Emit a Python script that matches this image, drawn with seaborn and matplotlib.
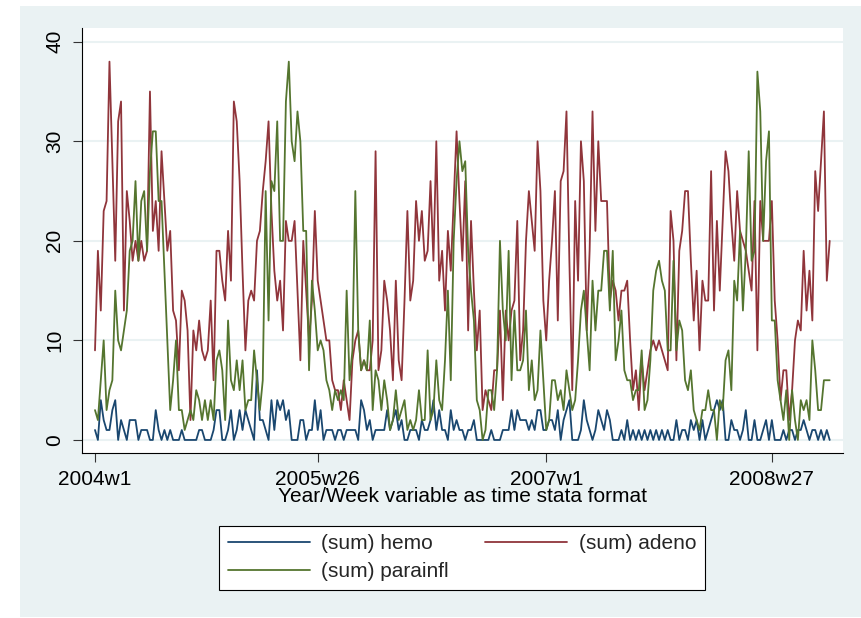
import numpy as np
import pandas as pd
import matplotlib
matplotlib.use("Agg")
import matplotlib.pyplot as plt
import seaborn as sns
from matplotlib.patches import Rectangle
from matplotlib.lines import Line2D

# ---- data (weekly counts, 2004w1 onwards) ----
tick_weeks = [0, 77, 156, 234]
tick_labels = ["2004w1", "2005w26", "2007w1", "2008w27"]
y_ticks = [0, 10, 20, 30, 40]

hemo = [
    1, 0, 4, 2, 1, 1, 3, 4, 0, 2, 1, 0, 2, 2, 2, 0, 1, 1, 1, 0,
    0, 3, 1, 0, 1, 0, 1, 0, 0, 0, 1, 0, 0, 0, 0, 0, 1, 1, 0, 0,
    0, 1, 3, 3, 0, 0, 1, 3, 0, 1, 3, 1, 3, 2, 1, 0, 7, 2, 2, 1,
    0, 4, 1, 4, 3, 4, 2, 3, 0, 0, 0, 2, 2, 0, 1, 1, 4, 1, 3, 0,
    1, 1, 1, 0, 1, 1, 0, 1, 1, 1, 1, 0, 4, 3, 1, 2, 0, 1, 1, 1,
    1, 3, 1, 2, 3, 1, 2, 0, 0, 1, 1, 1, 0, 2, 1, 1, 2, 4, 1, 3,
    1, 1, 0, 3, 1, 2, 1, 1, 0, 1, 1, 2, 0, 0, 0, 0, 0, 1, 0, 0,
    0, 1, 1, 1, 3, 1, 3, 2, 2, 2, 1, 2, 1, 3, 3, 1, 1, 2, 2, 1,
    3, 0, 2, 3, 4, 0, 0, 0, 1, 4, 2, 1, 0, 1, 3, 2, 1, 3, 2, 0,
    0, 0, 1, 0, 2, 0, 1, 0, 1, 0, 1, 0, 1, 0, 1, 0, 1, 0, 1, 0,
    0, 2, 0, 1, 1, 0, 2, 1, 2, 0, 2, 0, 1, 2, 3, 4, 3, 4, 0, 0,
    2, 1, 1, 0, 1, 3, 0, 0, 2, 0, 0, 1, 2, 0, 2, 0, 0, 0, 1, 0,
    1, 1, 0, 1, 1, 2, 1, 0, 1, 1, 0, 1, 0, 1, 0,
]

adeno = [
    9, 19, 13, 23, 24, 38, 28, 18, 32, 34, 13, 25, 22, 18, 20, 18, 20, 18, 19, 35,
    21, 24, 19, 29, 24, 19, 21, 13, 12, 7, 15, 14, 11, 2, 11, 9, 12, 9, 8, 9,
    14, 6, 19, 19, 16, 14, 21, 16, 34, 32, 26, 17, 9, 14, 15, 14, 20, 21, 25, 28,
    32, 23, 17, 14, 16, 11, 22, 20, 20, 22, 15, 8, 20, 15, 10, 14, 23, 16, 14, 12,
    10, 10, 6, 5, 5, 3, 6, 4, 2, 8, 10, 11, 7, 8, 7, 7, 10, 29, 7, 9,
    16, 14, 11, 6, 16, 8, 6, 14, 23, 14, 16, 24, 20, 23, 18, 19, 26, 18, 30, 16,
    19, 13, 21, 17, 24, 31, 24, 18, 26, 11, 22, 15, 9, 13, 3, 5, 4, 3, 7, 7,
    13, 4, 13, 10, 13, 14, 22, 8, 11, 20, 25, 22, 19, 30, 25, 14, 10, 16, 20, 25,
    12, 26, 27, 33, 18, 5, 24, 16, 30, 26, 11, 19, 33, 21, 30, 24, 24, 24, 14, 16,
    15, 12, 15, 15, 16, 10, 5, 7, 3, 8, 5, 7, 9, 10, 9, 10, 9, 8, 7, 23,
    20, 8, 19, 21, 25, 25, 18, 12, 17, 9, 16, 14, 14, 27, 13, 22, 15, 22, 29, 27,
    22, 18, 25, 21, 20, 19, 17, 15, 24, 9, 24, 20, 20, 20, 24, 14, 10, 4, 7, 7,
    2, 5, 10, 12, 11, 19, 13, 17, 12, 27, 23, 28, 33, 16, 20,
]

parainfl = [
    3, 2, 6, 10, 3, 5, 6, 15, 10, 9, 11, 13, 19, 20, 26, 18, 24, 25, 19, 27,
    31, 31, 24, 24, 17, 10, 3, 6, 10, 3, 3, 1, 2, 3, 2, 5, 4, 2, 4, 2,
    4, 2, 8, 9, 7, 2, 12, 6, 5, 8, 5, 8, 3, 4, 4, 9, 6, 3, 6, 25,
    12, 26, 25, 32, 20, 20, 34, 38, 30, 28, 33, 30, 21, 21, 7, 16, 13, 9, 10, 9,
    6, 5, 3, 5, 4, 5, 4, 15, 6, 9, 25, 11, 7, 8, 7, 12, 3, 7, 6, 3,
    6, 4, 1, 2, 5, 2, 3, 4, 1, 2, 1, 2, 5, 2, 2, 9, 2, 3, 8, 4,
    3, 8, 15, 6, 20, 26, 30, 27, 28, 19, 15, 12, 4, 3, 0, 1, 5, 5, 3, 7,
    20, 13, 10, 19, 6, 13, 7, 7, 8, 13, 5, 8, 4, 5, 11, 6, 1, 2, 6, 6,
    4, 5, 3, 7, 5, 3, 4, 8, 13, 15, 11, 7, 16, 11, 15, 15, 19, 19, 13, 19,
    8, 10, 13, 7, 6, 6, 4, 5, 5, 9, 3, 4, 8, 15, 17, 18, 16, 15, 9, 9,
    18, 9, 12, 11, 6, 5, 7, 3, 2, 1, 3, 3, 5, 3, 3, 0, 4, 3, 8, 9,
    5, 16, 14, 21, 13, 19, 29, 18, 19, 37, 33, 20, 28, 31, 12, 12, 6, 4, 2, 5,
    0, 5, 2, 0, 4, 3, 4, 2, 10, 7, 3, 3, 6, 6, 6,
]

series_names = ["(sum) hemo", "(sum) adeno", "(sum) parainfl"]
colors = ["#1A476F", "#90353B", "#55752F"]

# ---- figure ----
W, H = 861, 618
sns.set_theme(style="white")
plt.rcParams["font.family"] = ["Liberation Sans", "DejaVu Sans"]
fig = plt.figure(figsize=(W / 100, H / 100), dpi=100, facecolor="white")
fig.patches.append(Rectangle((20 / W, 1 - 617 / H), (W - 20) / W, (617 - 6) / H,
                             transform=fig.transFigure, facecolor="#EAF2F3",
                             edgecolor="none", zorder=-10))

ax = fig.add_axes([81.7 / W, 1 - 453 / H, (843 - 81.7) / W, (453 - 28) / H])
ax.set_zorder(1)
ax.set_facecolor("white")

for name, vals, col in zip(series_names, [hemo, adeno, parainfl], colors):
    sns.lineplot(x=np.arange(len(vals)), y=vals, ax=ax, color=col,
                 linewidth=1.3, legend=False, zorder=3)

ax.set_xlim(-4.6, 258.6)
ax.set_ylim(-1.31, 41.38)
ax.set_yticks(y_ticks)
ax.set_yticklabels([str(v) for v in y_ticks], rotation=90, va="center",
                   fontsize=15)
ax.set_xticks(tick_weeks)
ax.set_xticklabels(tick_labels, fontsize=15)
for y in y_ticks:
    ax.axhline(y, color="#EAF2F3", linewidth=1.5, zorder=1)

for s in ["top", "right"]:
    ax.spines[s].set_visible(False)
for s in ["left", "bottom"]:
    ax.spines[s].set_color("black")
    ax.spines[s].set_linewidth(0.8)
ax.tick_params(axis="both", direction="out", length=6.5, width=0.8,
               color="#333333", labelcolor="black", bottom=True, left=True)
ax.tick_params(axis="y", pad=6)
ax.tick_params(axis="x", pad=5.5)
ax.set_xlabel("Year/Week variable as time stata format", fontsize=15,
              color="black", labelpad=-1)
ax.set_ylabel("")

handles = [Line2D([], [], color=c, linewidth=1.3) for c in colors]
order = [0, 2, 1]
leg = fig.legend([handles[i] for i in order], [series_names[i] for i in order],
                 loc="center", bbox_to_anchor=(462 / W, 1 - 557.8 / H),
                 ncol=2, fontsize=15, frameon=True, fancybox=False,
                 edgecolor="black", facecolor="white", framealpha=1,
                 handlelength=3.93, handletextpad=0.56, columnspacing=1.75,
                 labelspacing=0.45, borderpad=0.4)
leg.get_frame().set_linewidth(0.8)

fig.savefig("out.png", dpi=100, facecolor="white")
